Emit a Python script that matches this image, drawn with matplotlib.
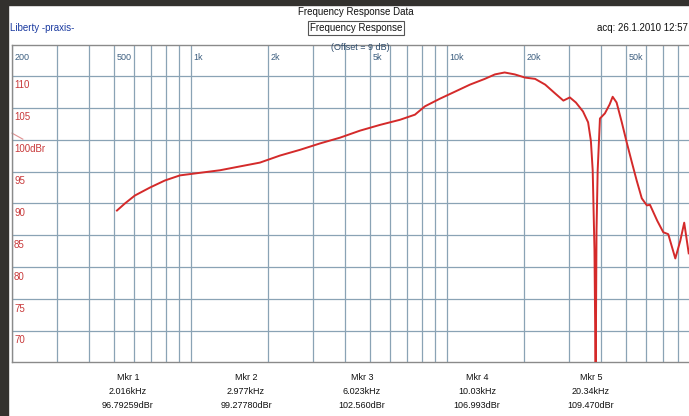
import numpy as np
import matplotlib
matplotlib.use("Agg")
import matplotlib.pyplot as plt

plt.rcParams['font.family'] = ['Liberation Sans', 'DejaVu Sans']

# response curve (Hz, dBr)
freq = [514, 552, 604, 692, 791, 906, 1084, 1298, 1553, 1860, 2227, 2667, 3193,
        3822, 4575, 5477, 6556, 7500, 8200, 9390, 10750, 12300, 14060, 15400,
        16800, 18400, 20200, 22100, 24200, 26500, 28500, 30200, 31900, 34000,
        35600, 36500, 37100, 37700, 38100, 38400, 38800, 39600, 41400, 43200,
        44400, 46000, 48200, 50500, 52800, 55100, 57700, 60400, 62100, 66300,
        70000, 73200, 78000, 81600, 84500, 88000]
level = [88.9, 90.0, 91.25, 92.5, 93.6, 94.4, 94.8, 95.2, 95.8, 96.4, 97.5, 98.4,
         99.4, 100.3, 101.4, 102.3, 103.1, 103.9, 105.2, 106.4, 107.5, 108.6,
         109.5, 110.2, 110.5, 110.2, 109.7, 109.5, 108.6, 107.2, 106.1, 106.6,
         105.8, 104.4, 102.7, 99.8, 95.2, 82.7, 62.3, 85.8, 95.2, 103.3, 104.1,
         105.5, 106.7, 105.8, 102.7, 99.4, 96.4, 93.6, 90.8, 89.7, 89.8, 87.3,
         85.5, 85.2, 81.4, 84.2, 87.0, 82.2]

xticks = [200, 500, 1000, 2000, 5000, 10000, 20000, 50000]
xlabels = ['200', '500', '1k', '2k', '5k', '10k', '20k', '50k']
yticks = [110, 105, 100, 95, 90, 85, 80, 75, 70]
ylabels = ['110', '105', '100dBr', '95', '90', '85', '80', '75', '70']

markers = ['Mkr 1', 'Mkr 2', 'Mkr 3', 'Mkr 4', 'Mkr 5']
mkr_freq = ['2.016kHz', '2.977kHz', '6.023kHz', '10.03kHz', '20.34kHz']
mkr_level = ['96.79259dBr', '99.27780dBr', '102.560dBr', '106.993dBr', '109.470dBr']

W, H = 689, 416
fig = plt.figure(figsize=(W / 100, H / 100), dpi=100)
fig.patch.set_facecolor('white')

# dark window border
fig.add_artist(plt.Rectangle((0, 0), 8 / W, 1, transform=fig.transFigure,
                             color='#33312e', zorder=0))
fig.add_artist(plt.Rectangle((0, 1 - 5 / H), 1, 5 / H, transform=fig.transFigure,
                             color='#33312e', zorder=0))

ax = fig.add_axes([12 / W, 1 - 362 / H, (W - 12) / W, (362 - 45) / H])
ax.set_xscale('log')
ax.set_xlim(200, 200 * 10 ** ((W - 12) / 256))
ax.set_ylim(65.2, 114.8)

gridc = '#8aa3b5'
grid_f = [m * d for d in (100, 1000, 10000) for m in range(1, 10) if m * d >= 200]
for g in grid_f:
    ax.axvline(g, color=gridc, lw=0.9, zorder=1)
for v in yticks:
    ax.axhline(v, color=gridc, lw=0.9, zorder=1)

ax.plot(freq, level, color='#d42a2a', lw=1.4, zorder=3)

ax.set_xticks([])
ax.set_yticks([])
ax.minorticks_off()
for s in ax.spines.values():
    s.set_color('#8a8a8a')
    s.set_linewidth(1.0)
ax.spines['right'].set_visible(False)

for f, lab in zip(xticks, xlabels):
    ax.annotate(lab, (f, 1), xycoords=('data', 'axes fraction'), xytext=(2, -6),
                textcoords='offset points', va='top', ha='left', fontsize=6.5,
                color='#3d5f80')
for v, lab in zip(yticks, ylabels):
    ax.annotate(lab, (0, v), xycoords=('axes fraction', 'data'), xytext=(1.5, -3),
                textcoords='offset points', va='top', ha='left', fontsize=7,
                color='#c8393a')

fig.text(360 / W, 1 - 47.5 / H, '(Offset = 9 dB)', ha='center', va='center',
         fontsize=6.5, color='#2c4a6a')

# offset marker on left edge
ax.plot([0, 0.016], [0.722, 0.703], transform=ax.transAxes, color='#e09090', lw=0.8,
        clip_on=False)

fig.text(356 / W, 1 - 12 / H, 'Frequency Response Data', ha='center', va='center',
         fontsize=7, color='#111111')
fig.text(10 / W, 1 - 28 / H, 'Liberty -praxis-', ha='left', va='center',
         fontsize=7, color='#1a3aa0')
fig.text(356 / W, 1 - 28 / H, 'Frequency Response', ha='center', va='center',
         fontsize=7, color='#111111',
         bbox=dict(boxstyle='square,pad=0.2', fc='white', ec='#555555', lw=0.8))
fig.text(688 / W, 1 - 28 / H, 'acq: 26.1.2010 12:57', ha='right', va='center',
         fontsize=7, color='#111111')

cols = [128, 246, 362, 477, 591]
for cx, m, mf, ml in zip(cols, markers, mkr_freq, mkr_level):
    fig.text(cx / W, 1 - 377 / H, m, ha='center', va='center', fontsize=6.5, color='#111111')
    fig.text(cx / W, 1 - 391 / H, mf, ha='center', va='center', fontsize=6.5, color='#111111')
    fig.text(cx / W, 1 - 405 / H, ml, ha='center', va='center', fontsize=6.5, color='#111111')

fig.savefig('out.png', dpi=100)
